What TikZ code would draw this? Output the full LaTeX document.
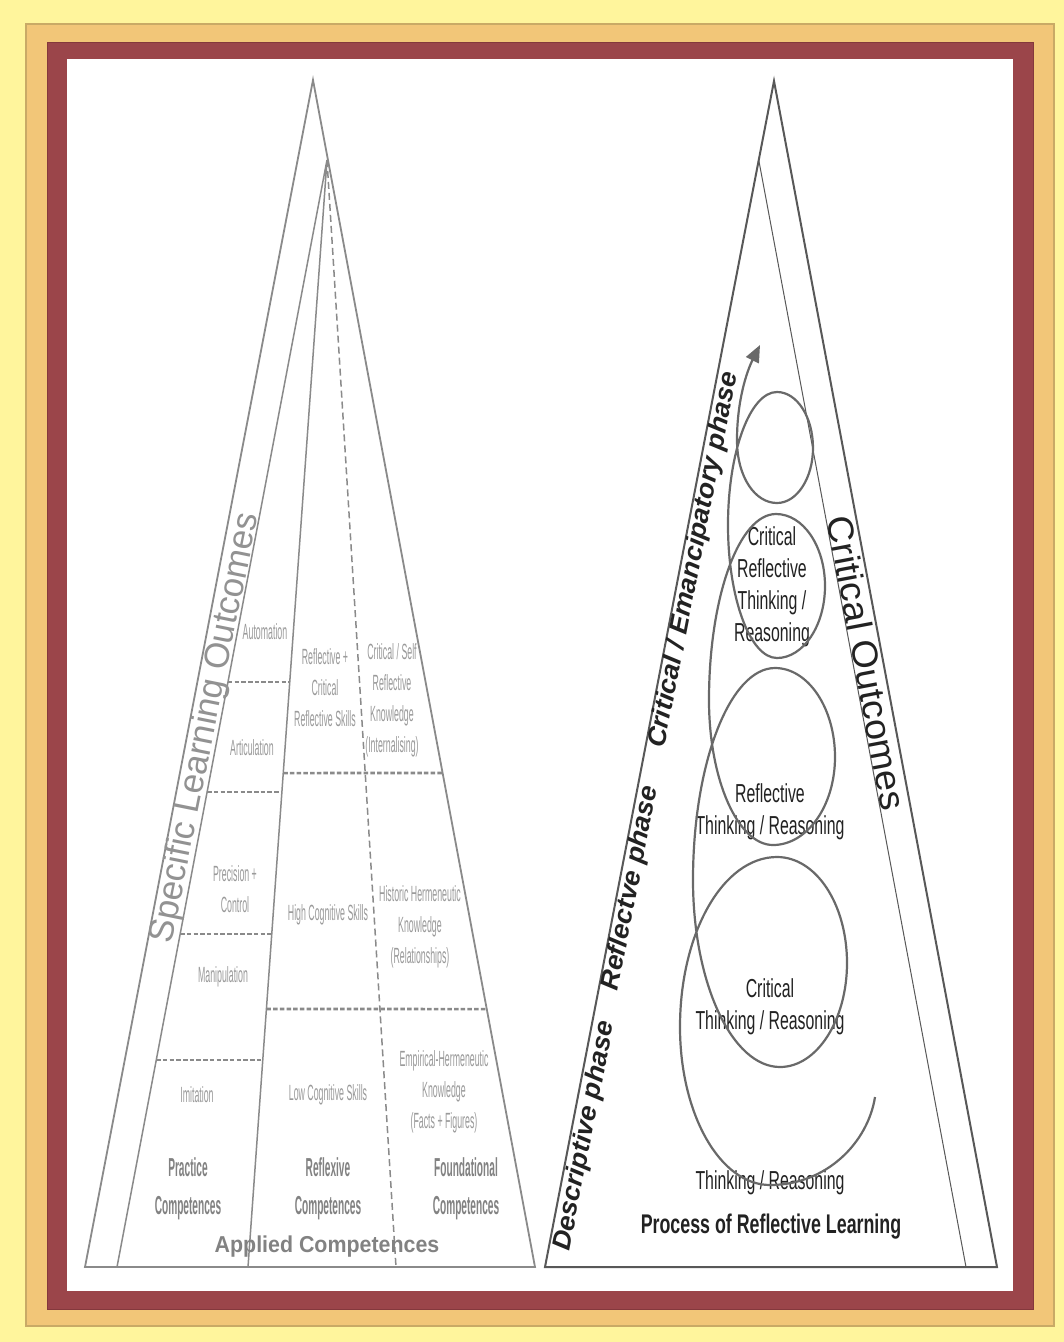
\documentclass[tikz,border=0pt]{standalone}
\usepackage{fontspec}
\setmainfont{Liberation Sans}
\newfontfamily\condfont{Liberation Sans}[FakeStretch=0.40]
\newfontfamily\compfont{Liberation Sans}[FakeStretch=0.39]
\newfontfamily\spiralfont{Liberation Sans}[FakeStretch=0.61]
\newfontfamily\titlefont{Liberation Sans}[FakeStretch=0.66]
\newfontfamily\basefont{Liberation Sans}[FakeStretch=0.93]
\newfontfamily\phasefont{Liberation Sans}[FakeStretch=1.05]
\usetikzlibrary{arrows.meta,calc}

\definecolor{frameyellow}{HTML}{FFF59C}
\definecolor{frameorange}{HTML}{F2C678}
\definecolor{framemaroon}{HTML}{9B454A}
\definecolor{orangeedge}{HTML}{C9AA66}
\definecolor{maroonedge}{HTML}{84383C}
\definecolor{paleline}{HTML}{8A8A8A}
\definecolor{paletext}{HTML}{9A9A9A}
\definecolor{boldgray}{HTML}{828282}
\definecolor{darkline}{HTML}{585858}
\definecolor{darktext}{HTML}{222222}

\begin{document}
\begin{tikzpicture}[x=1pt,y=-1pt,
  paleedge/.style={draw=paleline, line width=1.8pt},
  paleinner/.style={draw=paleline, line width=1.5pt},
  paledash/.style={draw=paleline, line width=1.5pt, dash pattern=on 7pt off 4pt},
  levelline/.style={draw=paleline, line width=2.6pt, dash pattern=on 4.5pt off 2.2pt},
  darkedge/.style={draw=darkline, line width=2pt},
  darkthin/.style={draw=darkline, line width=1pt},
  spiralline/.style={draw=darkline!90, line width=2.2pt},
  lab/.style={text=paletext, font=\condfont\fontsize{22}{31}\selectfont, align=center, inner sep=0pt},
  comp/.style={text=boldgray, font=\compfont\bfseries\fontsize{26}{38}\selectfont, align=center, inner sep=0pt},
  spirallab/.style={text=darktext, font=\spiralfont\fontsize{26}{32}\selectfont, align=center, inner sep=0pt},
  phase/.style={text=darktext, font=\phasefont\bfseries\itshape\fontsize{26}{30}\selectfont, inner sep=0pt, rotate=79}
]
\useasboundingbox (0,0) rectangle (1064,1342);

% frame
\fill[frameyellow] (0,0) rectangle (1064,1342);
\filldraw[fill=frameorange, draw=orangeedge, line width=1.5pt] (26,24) rectangle (1054,1326);
\filldraw[fill=framemaroon, draw=maroonedge, line width=1pt] (47,42) rectangle (1033,1309);
\fill[white] (67,59) rectangle (1013,1291);

% ---------------- left pyramid ----------------
\coordinate (la) at (313,80);
\coordinate (lbl) at (85,1267);
\coordinate (lbr) at (535,1267);
\coordinate (li) at (327,160);
\coordinate (lb1) at (117,1267);
\coordinate (lb2) at (248,1267);
\coordinate (lb3) at (396,1267);

\draw[paleedge] (lbl) -- (la) -- (lbr) -- cycle;
\draw[paleinner] (lb1) -- (li) -- (lb2);
\draw[paledash] (li) -- (lb3);

% level separators, practice column
\draw[levelline] ($(li)!0.4715!(lb1)$) -- ($(li)!0.4715!(lb2)$);
\draw[levelline] ($(li)!0.5709!(lb1)$) -- ($(li)!0.5709!(lb2)$);
\draw[levelline] ($(li)!0.6992!(lb1)$) -- ($(li)!0.6992!(lb2)$);
\draw[levelline] ($(li)!0.8130!(lb1)$) -- ($(li)!0.8130!(lb2)$);
% level separators, reflexive and foundational columns
\draw[levelline] ($(li)!0.5538!(lb2)$) -- ($(la)!0.5838!(lbr)$);
\draw[levelline] ($(li)!0.7669!(lb2)$) -- ($(la)!0.7827!(lbr)$);

\node[text=paletext!95!black, font=\fontsize{35}{40}\selectfont, inner sep=0pt, rotate=78.6]
  (slo) at (206,728) {Specific Learning Outcomes};

\node[lab] (auto) at (265,632) {Automation};
\node[lab] (artic) at (252,748) {Articulation};
\node[lab] (prec) at (235,889) {Precision +\\Control};
\node[lab] (manip) at (223,977) {Manipulation};
\node[lab] (imit) at (197,1095) {Imitation};

\node[lab] (rcrs) at (325,688) {Reflective +\\Critical\\Reflective Skills};
\node[lab] (hcs) at (328,915) {High Cognitive Skills};
\node[lab] (lcs) at (328,1095) {Low Cognitive Skills};

\node[lab] (csrk) at (392,700) {Critical / Self\\Reflective\\Knowledge\\(Internalising)};
\node[lab] (hhk) at (420,927) {Historic Hermeneutic\\Knowledge\\(Relationships)};
\node[lab] (ehk) at (444,1092) {Empirical-Hermeneutic\\Knowledge\\(Facts + Figures)};

\node[comp] (pc) at (188,1189) {Practice\\Competences};
\node[comp] (rc) at (328,1189) {Reflexive\\Competences};
\node[comp] (fc) at (466,1189) {Foundational\\Competences};

\node[text=boldgray, font=\basefont\bfseries\fontsize{23}{26}\selectfont, inner sep=0pt]
  (applied) at (327,1247) {Applied Competences};

% ---------------- right pyramid ----------------
\coordinate (ra) at (774,81);
\coordinate (rbl) at (545,1267);
\coordinate (rbr) at (997,1267);
\coordinate (rbi) at (966,1267);

\draw[darkedge] (rbl) -- (ra) -- (rbr) -- cycle;
\draw[darkthin] ($(ra)!0.0666!(rbl)$) -- (rbi);

\node[text=darktext, font=\phasefont\fontsize{36}{40}\selectfont, inner sep=0pt, rotate=-79.3]
  (co) at (867,663) {Critical Outcomes};

\node[phase] (cep) at (694,560) {Critical / Emancipatory phase};
\node[phase] (rp) at (631,888) {Reflectve phase};
\node[phase] (dp) at (585,1136) {Descriptive phase};

\node[spirallab] (crt) at (772,587) {Critical\\Reflective\\Thinking /\\Reasoning};
\node[spirallab] (rt) at (770,812) {Reflective\\Thinking / Reasoning};
\node[spirallab] (ct) at (770,1007) {Critical\\Thinking / Reasoning};
\node[spirallab] (tr) at (770,1183) {Thinking / Reasoning};

\node[text=darktext, font=\titlefont\bfseries\fontsize{27}{30}\selectfont, inner sep=0pt]
  (prl) at (771,1227) {Process of Reflective Learning};

% rising spiral of reflective learning
\draw[spiralline, -{Triangle[length=17pt,width=14pt]}]
  (875,1097) .. controls (868,1142) and (827,1185) .. (770,1185)
  .. controls (720,1185) and (680,1114) .. (680,1027)
  .. controls (680,933) and (723,857) .. (777,857)
  .. controls (816,857) and (847,904) .. (847,963)
  .. controls (847,1020) and (817,1067) .. (780,1067)
  .. controls (732,1067) and (693,983) .. (693,880)
  .. controls (693,763) and (730,668) .. (775,668)
  .. controls (808,668) and (835,708) .. (835,757)
  .. controls (835,806) and (807,845) .. (773,845)
  .. controls (738,845) and (709,780) .. (709,700)
  .. controls (709,597) and (739,514) .. (776,514)
  .. controls (803,514) and (825,546) .. (825,586)
  .. controls (825,626) and (803,658) .. (777,658)
  .. controls (750,658) and (728,598) .. (728,525)
  .. controls (728,452) and (750,392) .. (777,392)
  .. controls (797,392) and (813,417) .. (813,448)
  .. controls (813,478) and (797,503) .. (777,503)
  .. controls (755,503) and (737,477) .. (737,440)
  .. controls (737,400) and (747,371) .. (760,345);
\end{tikzpicture}
\end{document}
